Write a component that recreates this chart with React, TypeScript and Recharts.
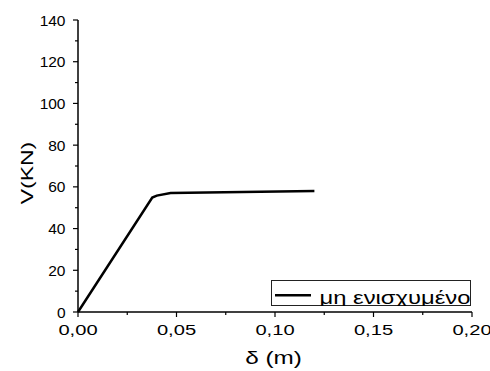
import { Legend, Line, LineChart, XAxis, YAxis } from 'recharts';

// δ (m) vs V (KN)
const deltaValues = [0, 0.0377, 0.04, 0.047, 0.12];
const shearValues = [0, 54.9, 55.8, 57.0, 58.0];

const xTicks = [0, 0.025, 0.05, 0.075, 0.1, 0.125, 0.15, 0.175, 0.2];
const xMajor = [0, 0.05, 0.1, 0.15, 0.2];
const yTicks = [0, 10, 20, 30, 40, 50, 60, 70, 80, 90, 100, 110, 120, 130, 140];
const yMajor = [0, 20, 40, 60, 80, 100, 120, 140];

const seriesName = 'μη ενισχυμένο';
const xTitle = 'δ (m)';
const yTitle = 'V(KN)';

const FONT = '"Liberation Sans", Arial, sans-serif';
// the source renders most text a bit wide
const STRETCH = 1.3;

const data = deltaValues.map((x, i) => ({ x, v: shearValues[i] }));

const isMajor = (list: number[], v: number) =>
  list.some((m) => Math.abs(m - v) < 1e-9);

function XTick({ x, y, payload }: any) {
  const v = payload.value as number;
  const major = isMajor(xMajor, v);
  return (
    <g>
      <line x1={x} x2={x} y1={y} y2={y + (major ? 5 : 3)} stroke="#000" strokeWidth={1.2} />
      {major && (
        <text
          transform={`translate(${x},${y + 22.5}) scale(${STRETCH},1)`}
          textAnchor="middle"
          fontSize={15.5}
          fontFamily={FONT}
          fill="#000"
        >
          {v.toFixed(2).replace('.', ',')}
        </text>
      )}
    </g>
  );
}

function YTick({ x, y, payload }: any) {
  const v = payload.value as number;
  const major = isMajor(yMajor, v);
  return (
    <g>
      <line x1={x} x2={x - (major ? 5 : 3)} y1={y} y2={y} stroke="#000" strokeWidth={1.2} />
      {major && (
        <text
          x={x - 12.5}
          y={y}
          dy="0.36em"
          textAnchor="end"
          fontSize={15.5}
          fontFamily={FONT}
          fill="#000"
        >
          {v}
        </text>
      )}
    </g>
  );
}

function XTitle({ viewBox }: any) {
  const cx = viewBox.x + viewBox.width / 2 - 1.5;
  return (
    <text
      transform={`translate(${cx},${viewBox.y + 52}) scale(1.35,1)`}
      textAnchor="middle"
      fontSize={18}
      fontFamily={FONT}
      fill="#000"
    >
      {xTitle}
    </text>
  );
}

function YTitle({ viewBox }: any) {
  const cy = viewBox.y + viewBox.height / 2 + 7;
  return (
    <text
      transform={`translate(33,${cy}) rotate(-90) scale(1.35,1)`}
      textAnchor="middle"
      fontSize={17}
      fontFamily={FONT}
      fill="#000"
    >
      {yTitle}
    </text>
  );
}

function LegendBox() {
  return (
    <svg width={200} height={26} style={{ display: 'block' }}>
      <rect x={0.5} y={0.5} width={199} height={25} fill="#fff" stroke="#222" strokeWidth={1} />
      <line x1={4} x2={40} y1={15.3} y2={15.3} stroke="#000" strokeWidth={2.5} />
      <text
        transform="translate(48.5,24) scale(1.36,1)"
        fontSize={17.5}
        fontFamily={FONT}
        fill="#000"
      >
        {seriesName}
      </text>
    </svg>
  );
}

export default function App() {
  return (
    <div style={{ position: 'absolute', left: 0, top: 0, background: '#fff' }}>
      <LineChart
        width={490}
        height={371}
        data={data}
        margin={{ top: 20, right: 18, left: 0, bottom: 0 }}
      >
        <XAxis
          type="number"
          dataKey="x"
          domain={[0, 0.2]}
          ticks={xTicks}
          interval={0}
          height={59}
          tickSize={0}
          tickMargin={0}
          tickLine={false}
          axisLine={{ stroke: '#000', strokeWidth: 1.5 }}
          tick={<XTick />}
          label={{ content: (p: any) => <XTitle {...p} /> }}
        />
        <YAxis
          type="number"
          domain={[0, 140]}
          ticks={yTicks}
          interval={0}
          width={78}
          tickSize={0}
          tickMargin={0}
          tickLine={false}
          axisLine={{ stroke: '#000', strokeWidth: 1.5 }}
          tick={<YTick />}
          label={{ content: (p: any) => <YTitle {...p} /> }}
        />
        <Legend
          layout="vertical"
          align="center"
          verticalAlign="middle"
          content={<LegendBox />}
          wrapperStyle={{ left: 271, top: 280, width: 200, height: 26 }}
        />
        <Line
          type="linear"
          dataKey="v"
          name={seriesName}
          stroke="#000"
          strokeWidth={2.5}
          dot={false}
          activeDot={false}
          isAnimationActive={false}
        />
      </LineChart>
    </div>
  );
}
